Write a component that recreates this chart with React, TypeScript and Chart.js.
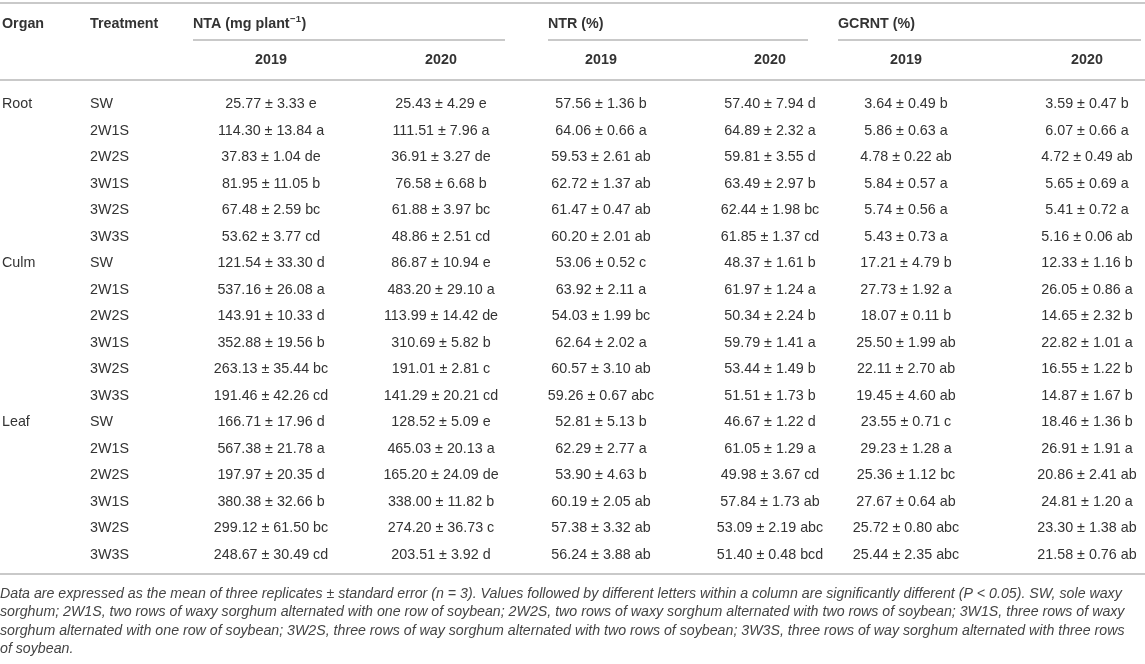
import React, { useEffect, useRef } from "react";
import { Chart, registerables } from "chart.js";

Chart.register(...registerables);

// ---------- data ----------
const organs = ["Root", "Culm", "Leaf"];
const treatments = ["SW", "2W1S", "2W2S", "3W1S", "3W2S", "3W3S"];
const years = ["2019", "2020"];
const groupTitles = ["NTA (mg plant", "NTR (%)", "GCRNT (%)"];
const groupTitleSup = ["−1", "", ""];
const headOrgan = "Organ";
const headTreatment = "Treatment";

const nta2019Mean = [25.77, 114.3, 37.83, 81.95, 67.48, 53.62, 121.54, 537.16, 143.91, 352.88, 263.13, 191.46, 166.71, 567.38, 197.97, 380.38, 299.12, 248.67];
const nta2019Se = [3.33, 13.84, 1.04, 11.05, 2.59, 3.77, 33.3, 26.08, 10.33, 19.56, 35.44, 42.26, 17.96, 21.78, 20.35, 32.66, 61.5, 30.49];
const nta2019Sig = ["e", "a", "de", "b", "bc", "cd", "d", "a", "d", "b", "bc", "cd", "d", "a", "d", "b", "bc", "cd"];

const nta2020Mean = [25.43, 111.51, 36.91, 76.58, 61.88, 48.86, 86.87, 483.2, 113.99, 310.69, 191.01, 141.29, 128.52, 465.03, 165.2, 338.0, 274.2, 203.51];
const nta2020Se = [4.29, 7.96, 3.27, 6.68, 3.97, 2.51, 10.94, 29.1, 14.42, 5.82, 2.81, 20.21, 5.09, 20.13, 24.09, 11.82, 36.73, 3.92];
const nta2020Sig = ["e", "a", "de", "b", "bc", "cd", "e", "a", "de", "b", "c", "cd", "e", "a", "de", "b", "c", "d"];

const ntr2019Mean = [57.56, 64.06, 59.53, 62.72, 61.47, 60.2, 53.06, 63.92, 54.03, 62.64, 60.57, 59.26, 52.81, 62.29, 53.9, 60.19, 57.38, 56.24];
const ntr2019Se = [1.36, 0.66, 2.61, 1.37, 0.47, 2.01, 0.52, 2.11, 1.99, 2.02, 3.1, 0.67, 5.13, 2.77, 4.63, 2.05, 3.32, 3.88];
const ntr2019Sig = ["b", "a", "ab", "ab", "ab", "ab", "c", "a", "bc", "a", "ab", "abc", "b", "a", "b", "ab", "ab", "ab"];

const ntr2020Mean = [57.4, 64.89, 59.81, 63.49, 62.44, 61.85, 48.37, 61.97, 50.34, 59.79, 53.44, 51.51, 46.67, 61.05, 49.98, 57.84, 53.09, 51.4];
const ntr2020Se = [7.94, 2.32, 3.55, 2.97, 1.98, 1.37, 1.61, 1.24, 2.24, 1.41, 1.49, 1.73, 1.22, 1.29, 3.67, 1.73, 2.19, 0.48];
const ntr2020Sig = ["d", "a", "d", "b", "bc", "cd", "b", "a", "b", "a", "b", "b", "d", "a", "cd", "ab", "abc", "bcd"];

const gcrnt2019Mean = [3.64, 5.86, 4.78, 5.84, 5.74, 5.43, 17.21, 27.73, 18.07, 25.5, 22.11, 19.45, 23.55, 29.23, 25.36, 27.67, 25.72, 25.44];
const gcrnt2019Se = [0.49, 0.63, 0.22, 0.57, 0.56, 0.73, 4.79, 1.92, 0.11, 1.99, 2.7, 4.6, 0.71, 1.28, 1.12, 0.64, 0.8, 2.35];
const gcrnt2019Sig = ["b", "a", "ab", "a", "a", "a", "b", "a", "b", "ab", "ab", "ab", "c", "a", "bc", "ab", "abc", "abc"];

const gcrnt2020Mean = [3.59, 6.07, 4.72, 5.65, 5.41, 5.16, 12.33, 26.05, 14.65, 22.82, 16.55, 14.87, 18.46, 26.91, 20.86, 24.81, 23.3, 21.58];
const gcrnt2020Se = [0.47, 0.66, 0.49, 0.69, 0.72, 0.06, 1.16, 0.86, 2.32, 1.01, 1.22, 1.67, 1.36, 1.91, 2.41, 1.2, 1.38, 0.76];
const gcrnt2020Sig = ["b", "a", "ab", "a", "a", "ab", "b", "a", "b", "a", "b", "b", "b", "a", "ab", "a", "ab", "ab"];

const footnoteLines = [
  "Data are expressed as the mean of three replicates ± standard error (n = 3). Values followed by different letters within a column are significantly different (P < 0.05). SW, sole waxy",
  "sorghum; 2W1S, two rows of waxy sorghum alternated with one row of soybean; 2W2S, two rows of waxy sorghum alternated with two rows of soybean; 3W1S, three rows of waxy",
  "sorghum alternated with one row of soybean; 3W2S, three rows of way sorghum alternated with two rows of soybean; 3W3S, three rows of way sorghum alternated with three rows",
  "of soybean.",
];

// ---------- layout (scale units) ----------
const X_MAX = 1145;
const Y_MAX = 664;
const organX = 2;
const treatX = 90;
const groupStartX = [193, 548, 838];
const groupEndX = [505, 808, 1141];
const colCenterX = [271, 441, 601, 770, 906, 1087];
const topRuleY = 3;
const head1Y = 24;
const groupRuleY = 40;
const head2Y = 60;
const headRuleY = 80;
const firstRowY = 104.5;
const rowStep = 26.5;
const bottomRuleY = 574;
const footY0 = 594;
const footStep = 18.5;

const FONT = '"Liberation Sans", Arial, Helvetica, sans-serif';
const BODY_PX = 14.3;
const FOOT_PX = 14.2;
const TEXT = "#333333";
const RULE = "#c9c9c9";

const columns = [
  [nta2019Mean, nta2019Se, nta2019Sig],
  [nta2020Mean, nta2020Se, nta2020Sig],
  [ntr2019Mean, ntr2019Se, ntr2019Sig],
  [ntr2020Mean, ntr2020Se, ntr2020Sig],
  [gcrnt2019Mean, gcrnt2019Se, gcrnt2019Sig],
  [gcrnt2020Mean, gcrnt2020Se, gcrnt2020Sig],
] as const;

const tablePlugin = {
  id: "tableDraw",
  afterDraw(chart: any) {
    const ctx: CanvasRenderingContext2D = chart.ctx;
    const xs = chart.scales.x;
    const ys = chart.scales.y;
    const X = (v: number) => xs.getPixelForValue(v);
    const Y = (v: number) => ys.getPixelForValue(v);
    ctx.save();

    const rule = (x0: number, x1: number, y: number) => {
      ctx.strokeStyle = RULE;
      ctx.lineWidth = 2;
      ctx.beginPath();
      ctx.moveTo(X(x0), Y(y));
      ctx.lineTo(X(x1), Y(y));
      ctx.stroke();
    };
    rule(0, X_MAX, topRuleY);
    groupStartX.forEach((s, i) => rule(s, groupEndX[i], groupRuleY));
    rule(0, X_MAX, headRuleY);
    rule(0, X_MAX, bottomRuleY);

    ctx.fillStyle = TEXT;
    ctx.textBaseline = "middle";
    const bold = `bold ${BODY_PX}px ${FONT}`;

    // header row 1
    ctx.font = bold;
    ctx.textAlign = "left";
    ctx.fillText(headOrgan, X(organX), Y(head1Y));
    ctx.fillText(headTreatment, X(treatX), Y(head1Y));
    groupTitles.forEach((t, i) => {
      ctx.font = bold;
      const x = X(groupStartX[i]);
      ctx.fillText(t, x, Y(head1Y));
      let w = ctx.measureText(t).width;
      if (groupTitleSup[i]) {
        ctx.font = `bold 9.5px ${FONT}`;
        ctx.fillText(groupTitleSup[i], x + w + 0.5, Y(head1Y) - 4.5);
        w += ctx.measureText(groupTitleSup[i]).width + 1;
        ctx.font = bold;
        ctx.fillText(")", x + w, Y(head1Y));
      }
    });

    // header row 2
    ctx.font = bold;
    ctx.textAlign = "center";
    colCenterX.forEach((cx, i) => {
      ctx.fillText(years[i % 2], X(cx), Y(head2Y));
    });

    // body
    ctx.font = `${BODY_PX}px ${FONT}`;
    for (let r = 0; r < organs.length * treatments.length; r++) {
      const y = Y(firstRowY + r * rowStep);
      ctx.textAlign = "left";
      if (r % treatments.length === 0) {
        ctx.fillText(organs[r / treatments.length], X(organX), y);
      }
      ctx.fillText(treatments[r % treatments.length], X(treatX), y);
      ctx.textAlign = "center";
      columns.forEach((col, c) => {
        const [m, s, g] = col as any;
        const txt = `${m[r].toFixed(2)} ± ${s[r].toFixed(2)} ${g[r]}`;
        ctx.fillText(txt, X(colCenterX[c]), y);
      });
    }

    // footnote
    ctx.font = `italic ${FOOT_PX}px ${FONT}`;
    ctx.fillStyle = "#444444";
    ctx.textAlign = "left";
    footnoteLines.forEach((line, i) => {
      ctx.fillText(line, X(0), Y(footY0 + i * footStep));
    });

    ctx.restore();
  },
};

export default function App() {
  const ref = useRef<HTMLCanvasElement | null>(null);
  useEffect(() => {
    if (!ref.current) return;
    const chart = new Chart(ref.current, {
      type: "scatter",
      data: { datasets: [{ data: [], pointRadius: 0 }] },
      options: {
        animation: false,
        responsive: true,
        maintainAspectRatio: false,
        layout: { padding: 0 },
        plugins: { legend: { display: false }, tooltip: { enabled: false } },
        scales: {
          x: { type: "linear", min: 0, max: X_MAX, display: false },
          y: { type: "linear", min: 0, max: Y_MAX, reverse: true, display: false },
        },
      },
      plugins: [tablePlugin],
    });
    return () => chart.destroy();
  }, []);
  return (
    <div style={{ position: "fixed", left: 0, top: 0, width: X_MAX, height: Y_MAX, background: "#ffffff" }}>
      <canvas ref={ref} />
    </div>
  );
}
